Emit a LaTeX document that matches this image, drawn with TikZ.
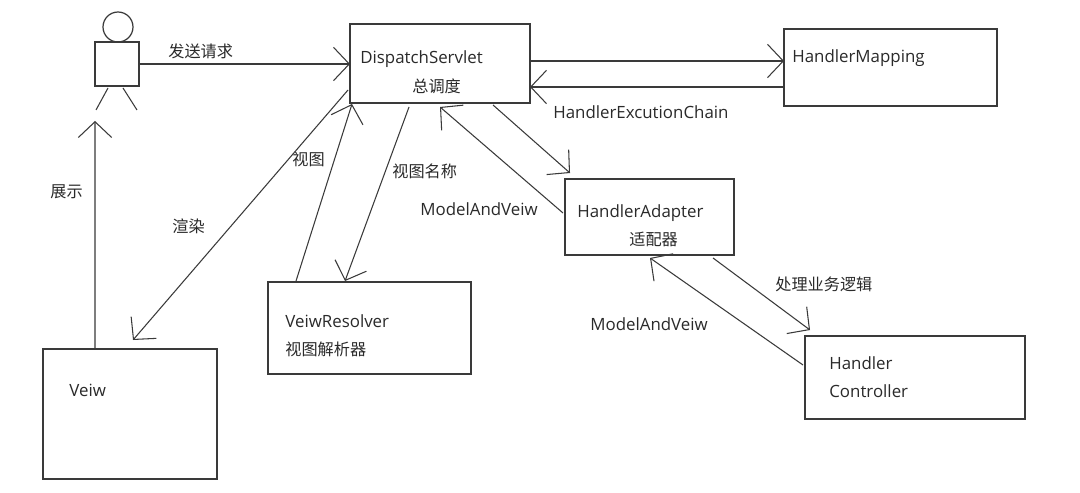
\documentclass[tikz,border=0pt]{standalone}
\usepackage{fontspec}
\setmainfont{Open Sans}
\newfontfamily\cjk{Noto Sans CJK SC}
\usetikzlibrary{arrows.meta,calc}
\definecolor{ln}{HTML}{3A3A3A}
\definecolor{tx}{HTML}{2A2A2A}
\tikzset{
  box/.style={draw=ln,line width=0.7pt,inner sep=0pt,outer sep=0pt},
  arr/.style={draw=ln,line width=0.6pt,-{Straight Barb[length=9pt,width=19pt,line width=0.6pt]}},
  limb/.style={draw=ln,line width=0.6pt},
  en/.style={text=tx,inner sep=0pt,anchor=base west,font=\fontsize{9.6}{11}\selectfont},
  zh/.style={text=tx,inner sep=0pt,anchor=base west,font=\cjk\fontsize{9.2}{11}\selectfont}
}
\begin{document}
\begin{tikzpicture}[x=0.02cm,y=-0.02cm]
\useasboundingbox (0,0) rectangle (1080,493);
\fill[white] (0,0) rectangle (1080,493);
% boxes
\node[box,minimum width=3.6cm,minimum height=1.58cm] (ds) at (440,63.5) {};
\node[box,minimum width=4.26cm,minimum height=1.54cm] (hm) at (890.5,67.5) {};
\node[box,minimum width=3.38cm,minimum height=1.52cm] (ha) at (649.5,217) {};
\node[box,minimum width=4.4cm,minimum height=1.66cm] (hc) at (915,377.5) {};
\node[box,minimum width=4.06cm,minimum height=1.84cm] (vr) at (369.5,328) {};
\node[box,minimum width=3.48cm,minimum height=2.6cm] (vw) at (130,414) {};
% stick figure
\node[box,minimum width=0.88cm,minimum height=0.88cm] (body) at (117,64) {};
\node[box,circle,minimum size=0.6cm] (head) at (118,27) {};
\draw[limb] ($(body.south west)+(13,2)$) -- ($(body.south west)+(1,24)$);
\draw[limb] ($(body.south west)+(28,2)$) -- ($(body.south west)+(42,24)$);
% texts
\node[zh] (t1) at (168,58) {发送请求};
\node[en] (t2) at (360,64) {DispatchServlet};
\node[zh] (t3) at (412,93) {总调度};
\node[en] (t4) at (792,63) {HandlerMapping};
\node[en] (t5) at (553,119) {HandlerExcutionChain};
\node[en] (t6) at (577,218) {HandlerAdapter};
\node[zh] (t7) at (629,246) {适配器};
\node[en] (t8) at (420,216) {ModelAndVeiw};
\node[zh] (t9) at (392,178) {视图名称};
\node[zh] (t10) at (292,166) {视图};
\node[zh] (t11) at (172,233) {渲染};
\node[zh] (t12) at (50,198) {展示};
\node[zh] (t13) at (775,291) {处理业务逻辑};
\node[en] (t14) at (590,331) {ModelAndVeiw};
\node[en] (t15) at (829,370) {Handler};
\node[en] (t16) at (829,398) {Controller};
\node[en] (t17) at (285,328) {VeiwResolver};
\node[zh] (t18) at (285,356) {视图解析器};
\node[en] (t19) at (69,397) {Veiw};
% connectors
\coordinate (ya) at (0,61);
\coordinate (yb) at (0,87);
\draw[arr] (body.east) -- (body.east -| ds.west);
\draw[arr] (ds.east |- ya) -- (hm.west |- ya);
\draw[arr] (hm.west |- yb) -- (ds.east |- yb);
\draw[arr] ($(ds.south west)+(143,2)$) -- ($(ha.north west)+(5,-6)$);
\draw[arr] ($(ha.west)+(-2,-4)$) -- ($(ds.south west)+(90,4)$);
\draw[arr] ($(ha.south west)+(148,3)$) -- ($(hc.north west)+(5,-6)$);
\draw[arr] ($(hc.west)+(-2,-12.5)$) -- ($(ha.south west)+(85,3)$);
\draw[arr] ($(ds.south west)+(-2,-13)$) -- ($(vw.north west)+(90,-9)$);
\draw[arr] ($(vr.north west)+(28,-1)$) -- ($(ds.south west)+(2,1)$);
\draw[arr] ($(ds.south west)+(59,4)$) -- ($(vr.north west)+(77,-1)$);
\draw[arr] ($(vw.north west)+(52,0)$) -- ($(body.south west)+(0,35)$);
\end{tikzpicture}
\end{document}
